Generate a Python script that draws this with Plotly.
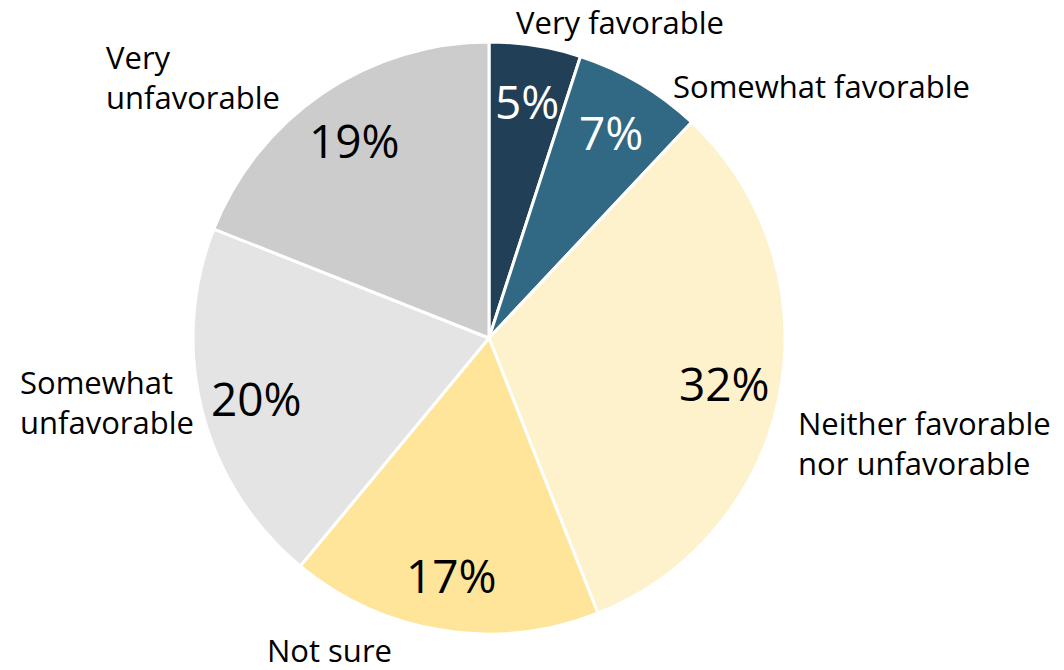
import math
import plotly.graph_objects as go

categories = ["Very favorable", "Somewhat favorable", "Neither favorable nor unfavorable",
              "Not sure", "Somewhat unfavorable", "Very unfavorable"]
values = [5, 7, 32, 17, 20, 19]
colors = ["#213f56", "#316985", "#fef2cc", "#fee599", "#e4e4e4", "#cccccc"]
text_colors = ["white", "white", "black", "black", "black", "black"]

FONT = "Open Sans, Lato, sans-serif"

# figure size (page has 8px body margin)
W, H = 1048, 654
CX, CY, R = 481, 330, 296  # pie center / radius in figure pixels

fig = go.Figure(go.Pie(
    labels=categories,
    values=values,
    textinfo="none",
    marker=dict(colors=colors, line=dict(color="white", width=3)),
    sort=False,
    direction="clockwise",
    rotation=0,
    domain=dict(x=[(CX - R) / W, (CX + R) / W], y=[(H - CY - R) / H, (H - CY + R) / H]),
    hoverinfo="label+percent",
    showlegend=False,
))

# percentage labels at slice mid-angles
total = sum(values)
cum = 0
for v, tc in zip(values, text_colors):
    mid = (cum + v / 2) / total * 2 * math.pi
    cum += v
    px = CX + 0.81 * R * math.sin(mid)
    py = CY - 0.81 * R * math.cos(mid)
    fig.add_annotation(
        text=f"{v}%", x=px / W, y=1 - py / H, xref="paper", yref="paper",
        xanchor="center", yanchor="middle", showarrow=False,
        font=dict(family=FONT, size=46, color=tc),
    )

label_texts = ["Very favorable", "Somewhat favorable", "Neither favorable<br>nor unfavorable",
               "Not sure", "Somewhat<br>unfavorable", "Very<br>unfavorable"]
label_pos = [(506, 14), (663, 78), (788, 435), (257, 642), (10, 394), (96, 69)]
for txt, (x, y) in zip(label_texts, label_pos):
    fig.add_annotation(
        text=txt, x=x / W, y=1 - y / H, xref="paper", yref="paper",
        xanchor="left", yanchor="middle", align="left", showarrow=False,
        font=dict(family=FONT, size=31, color="black"),
    )

fig.update_layout(
    width=W, height=H,
    margin=dict(l=0, r=0, t=0, b=0),
    paper_bgcolor="white", plot_bgcolor="white",
)
fig.write_html("out.html")
